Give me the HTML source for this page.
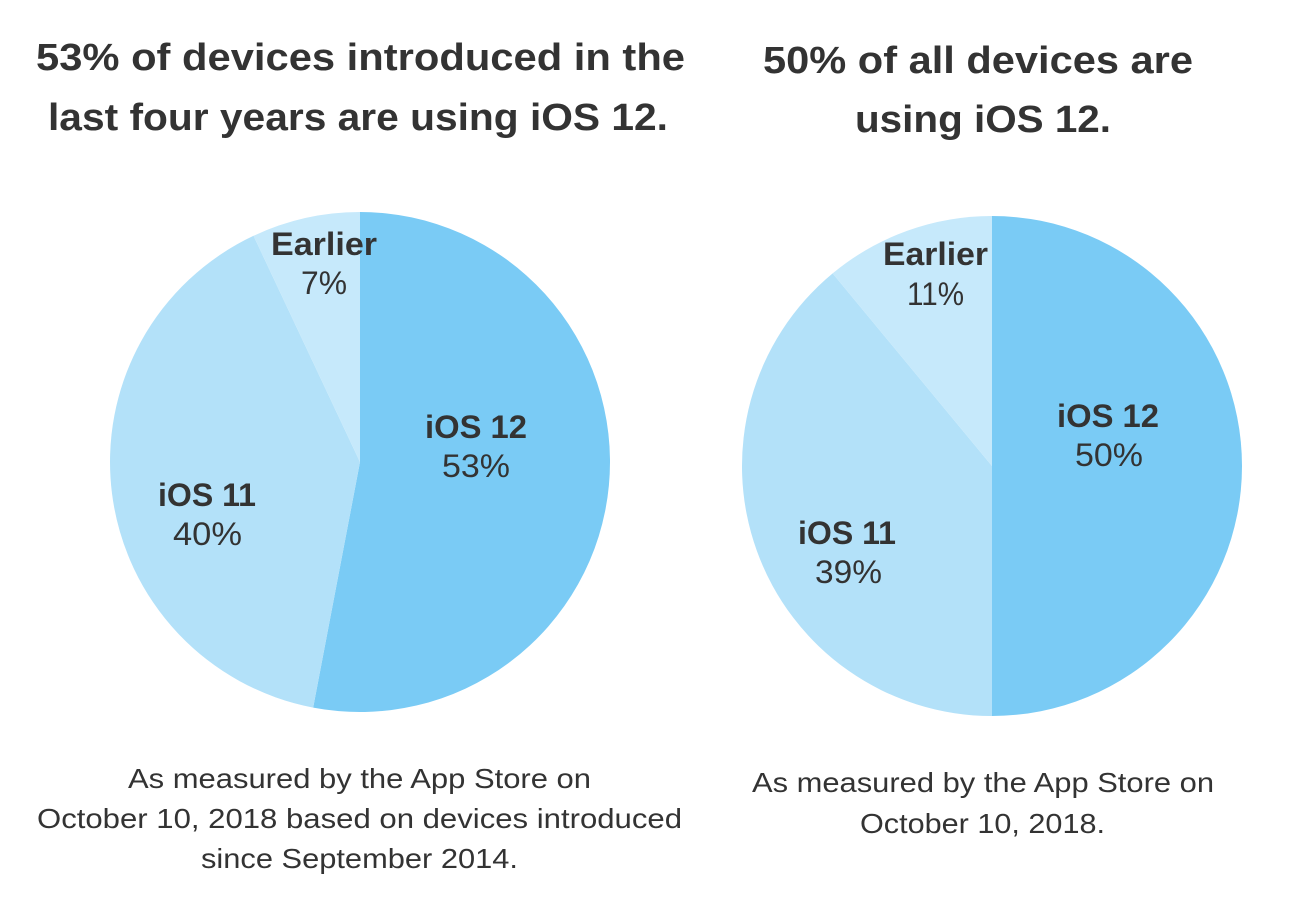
<!DOCTYPE html>
<html>
<head>
<meta charset="utf-8">
<style>
  html, body { margin: 0; padding: 0; background: #ffffff; }
  body { width: 1300px; height: 900px; overflow: hidden; }
  svg { display: block; }
  .t { font-family: "Liberation Sans", Arial, sans-serif; fill: #333333; }
</style>
</head>
<body>
<svg width="1300" height="900" viewBox="0 0 1300 900" xmlns="http://www.w3.org/2000/svg">
  <rect x="0" y="0" width="1300" height="900" fill="#ffffff"/>

  <!-- Left titles -->
  <text class="t" x="36" y="70" font-size="38" font-weight="bold" textLength="649" lengthAdjust="spacingAndGlyphs">53% of devices introduced in the</text>
  <text class="t" x="48" y="130" font-size="38" font-weight="bold" textLength="620" lengthAdjust="spacingAndGlyphs">last four years are using iOS 12.</text>

  <!-- Right titles -->
  <text class="t" x="763" y="73" font-size="38" font-weight="bold" textLength="430" lengthAdjust="spacingAndGlyphs">50% of all devices are</text>
  <text class="t" x="855" y="132" font-size="38" font-weight="bold" textLength="256" lengthAdjust="spacingAndGlyphs">using iOS 12.</text>

  <!-- Left pie -->
  <path d="M360,462 L360,212 A250,250 0 1 1 313.15,707.57 Z" fill="#7acbf5"/>
  <path d="M360,462 L313.15,707.57 A250,250 0 0 1 253.55,235.8 Z" fill="#b3e1f9"/>
  <path d="M360,462 L253.55,235.8 A250,250 0 0 1 360,212 Z" fill="#c6e9fb"/>

  <text class="t" x="271" y="255" font-size="32" font-weight="bold" textLength="106" lengthAdjust="spacingAndGlyphs">Earlier</text>
  <text class="t" x="301" y="294" font-size="32" textLength="46" lengthAdjust="spacingAndGlyphs">7%</text>
  <text class="t" x="425" y="438" font-size="32" font-weight="bold" textLength="102" lengthAdjust="spacingAndGlyphs">iOS 12</text>
  <text class="t" x="442" y="477" font-size="32" textLength="68" lengthAdjust="spacingAndGlyphs">53%</text>
  <text class="t" x="158" y="506" font-size="32" font-weight="bold" textLength="98" lengthAdjust="spacingAndGlyphs">iOS 11</text>
  <text class="t" x="173" y="545" font-size="32" textLength="69" lengthAdjust="spacingAndGlyphs">40%</text>

  <!-- Right pie -->
  <path d="M992,466 L992,216 A250,250 0 0 1 992,716 Z" fill="#7acbf5"/>
  <path d="M992,466 L992,716 A250,250 0 0 1 832.64,273.37 Z" fill="#b3e1f9"/>
  <path d="M992,466 L832.64,273.37 A250,250 0 0 1 992,216 Z" fill="#c6e9fb"/>

  <text class="t" x="883" y="265" font-size="32" font-weight="bold" textLength="105" lengthAdjust="spacingAndGlyphs">Earlier</text>
  <text class="t" x="907" y="305" font-size="32" textLength="57" lengthAdjust="spacingAndGlyphs">11%</text>
  <text class="t" x="1057" y="427" font-size="32" font-weight="bold" textLength="102" lengthAdjust="spacingAndGlyphs">iOS 12</text>
  <text class="t" x="1075" y="466" font-size="32" textLength="68" lengthAdjust="spacingAndGlyphs">50%</text>
  <text class="t" x="798" y="544" font-size="32" font-weight="bold" textLength="98" lengthAdjust="spacingAndGlyphs">iOS 11</text>
  <text class="t" x="815" y="583" font-size="32" textLength="67" lengthAdjust="spacingAndGlyphs">39%</text>

  <!-- Left caption -->
  <text class="t" x="128" y="788" font-size="28" textLength="463" lengthAdjust="spacingAndGlyphs">As measured by the App Store on</text>
  <text class="t" x="37" y="828" font-size="28" textLength="645" lengthAdjust="spacingAndGlyphs">October 10, 2018 based on devices introduced</text>
  <text class="t" x="201" y="868" font-size="28" textLength="317" lengthAdjust="spacingAndGlyphs">since September 2014.</text>

  <!-- Right caption -->
  <text class="t" x="752" y="792" font-size="28" textLength="462" lengthAdjust="spacingAndGlyphs">As measured by the App Store on</text>
  <text class="t" x="860" y="833" font-size="28" textLength="245" lengthAdjust="spacingAndGlyphs">October 10, 2018.</text>
</svg>
</body>
</html>
